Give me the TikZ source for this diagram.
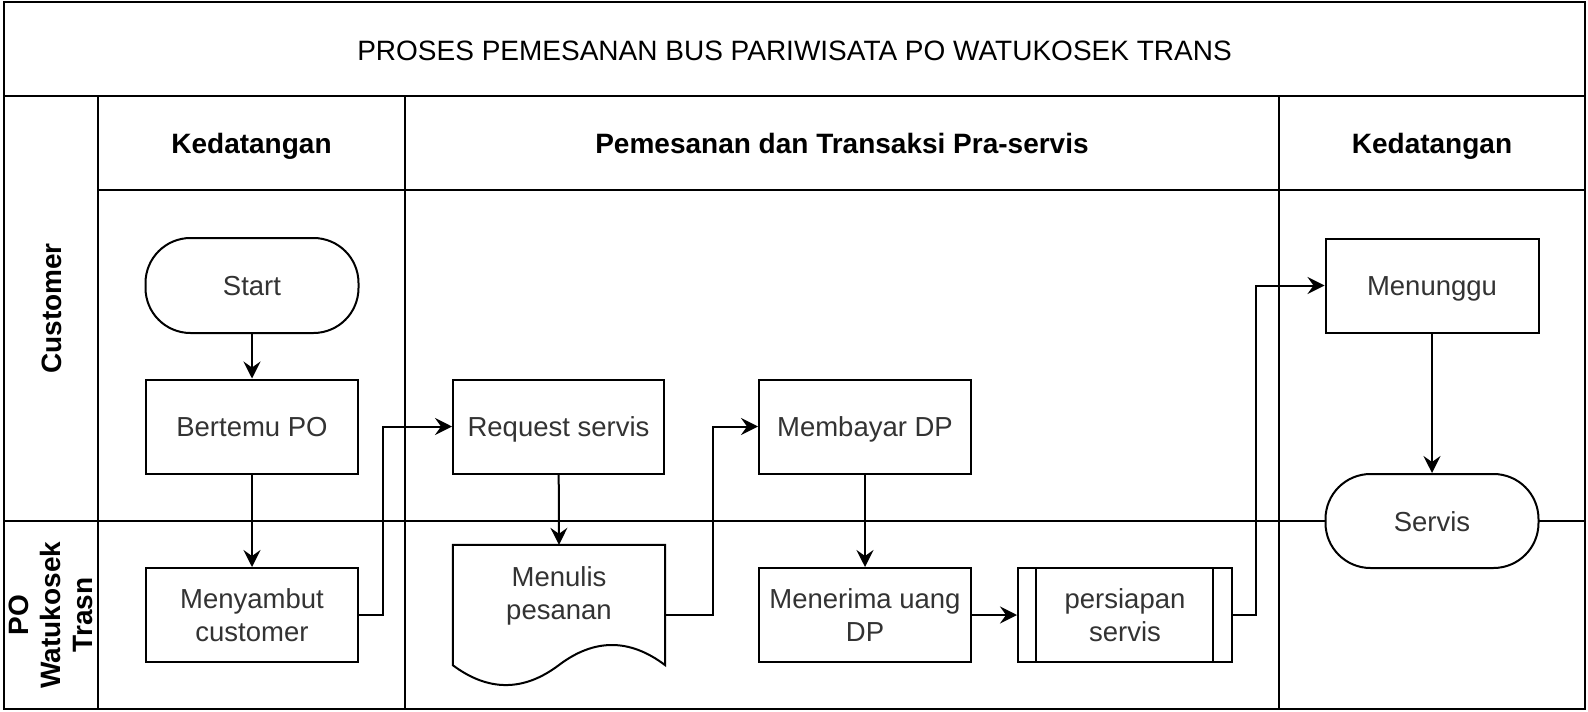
\documentclass[tikz,border=0pt]{standalone}
\usepackage{fontspec}
\setmainfont{Liberation Sans}
\usetikzlibrary{arrows.meta}
\definecolor{txtgray}{RGB}{51,51,51}
\newcommand{\nfont}{\fontsize{27.5}{33}\selectfont}
\newcommand{\hfont}{\fontsize{28}{33}\selectfont}
\tikzset{
  pool/.style={line width=2.7pt},
  coldiv/.style={line width=2pt},
  box/.style={draw, line width=2pt, fill=white, minimum width=212pt, minimum height=94pt,
    inner sep=0pt, align=center, text=txtgray, font=\nfont},
  oneline/.style={text height=20pt, text depth=0pt},
  term/.style={box, oneline, rounded corners=45pt},
  hdr/.style={font=\hfont\bfseries, text=black, align=center, inner sep=0pt},
  arr/.style={line width=2pt, -{Stealth[length=17pt,width=17pt,inset=6pt]}},
}
\begin{document}
\begin{tikzpicture}[x=1pt,y=-1pt]
\useasboundingbox (0,0) rectangle (1588,712);
% pool
\draw[pool] (4,2) rectangle (1585,709);
\draw[pool] (4,96) -- (1585,96);
\draw[pool] (98,96) -- (98,709);
\draw[pool] (98,190) -- (1585,190);
\draw[pool] (4,521) -- (1585,521);
\draw[coldiv] (405,96) -- (405,709);
\draw[coldiv] (1279,96) -- (1279,709);
% titles
\node[font=\hfont, inner sep=0pt, oneline] (title) at (794.5,50) {PROSES PEMESANAN BUS PARIWISATA PO WATUKOSEK TRANS};
\node[hdr, oneline] (h1) at (251.5,143) {Kedatangan};
\node[hdr, oneline] (h2) at (842,143) {Pemesanan dan Transaksi Pra-servis};
\node[hdr, oneline] (h3) at (1432,143) {Kedatangan};
\node[hdr, oneline, rotate=90] (l1) at (51,308.5) {Customer};
\node[hdr, rotate=90, font=\fontsize{28}{32}\selectfont\bfseries] (l2) at (51,615) {PO\\Watukosek\\Trasn};
% nodes
\node[term, minimum width=213pt, minimum height=95pt] (start) at (252,285.5) {Start};
\node[box, oneline] (bertemu) at (252,426.5) {Bertemu PO};
\node[box] (menyambut) at (252,615) {Menyambut\\customer};
\node[box, oneline, minimum width=211pt] (request) at (558.5,426.5) {Request servis};
\node[minimum width=212pt, minimum height=120pt, inner sep=0pt] (menulis) at (559,605) {};
\draw[line width=2pt, fill=white] (menulis.north west) -- (menulis.north east) -- (menulis.south east)
  .. controls (629.7,638.3) and (594.3,638.3) .. (559,665)
  .. controls (523.7,691.7) and (488.3,691.7) .. (menulis.south west) -- cycle;
\node[text=txtgray, font=\nfont, align=center, inner sep=0pt] (menulistext) at (559,596) {Menulis\\pesanan};
\coordinate (menulisout) at ([yshift=-10pt]menulis.east);
\node[box, oneline] (membayar) at (865,426.5) {Membayar DP};
\node[box] (menerima) at (865,615) {Menerima uang\\DP};
\node[box, minimum width=214pt] (persiapan) at (1125,615) {persiapan\\servis};
\draw[line width=2pt] ([xshift=19pt]persiapan.north west) -- ([xshift=19pt]persiapan.south west);
\draw[line width=2pt] ([xshift=-20pt]persiapan.north east) -- ([xshift=-20pt]persiapan.south east);
\node[box, oneline, minimum width=213pt] (menunggu) at (1432,285.5) {Menunggu};
\node[term, minimum width=213pt] (servis) at (1432,521) {Servis};
% connectors
\draw[arr] (start) -- (bertemu);
\draw[arr] (bertemu) -- (menyambut);
\draw[arr] (menyambut.east) -- (383,615) |- (request.west);
\draw[arr] (request) -- (menulis.north);
\draw[arr] (menulisout) -- (713,615) |- (membayar.west);
\draw[arr] (membayar) -- (menerima);
\draw[arr] (menerima) -- (persiapan);
\draw[arr] (persiapan.east) -- (1256,615) |- (menunggu.west);
\draw[arr] (menunggu) -- (servis);
\end{tikzpicture}
\end{document}
